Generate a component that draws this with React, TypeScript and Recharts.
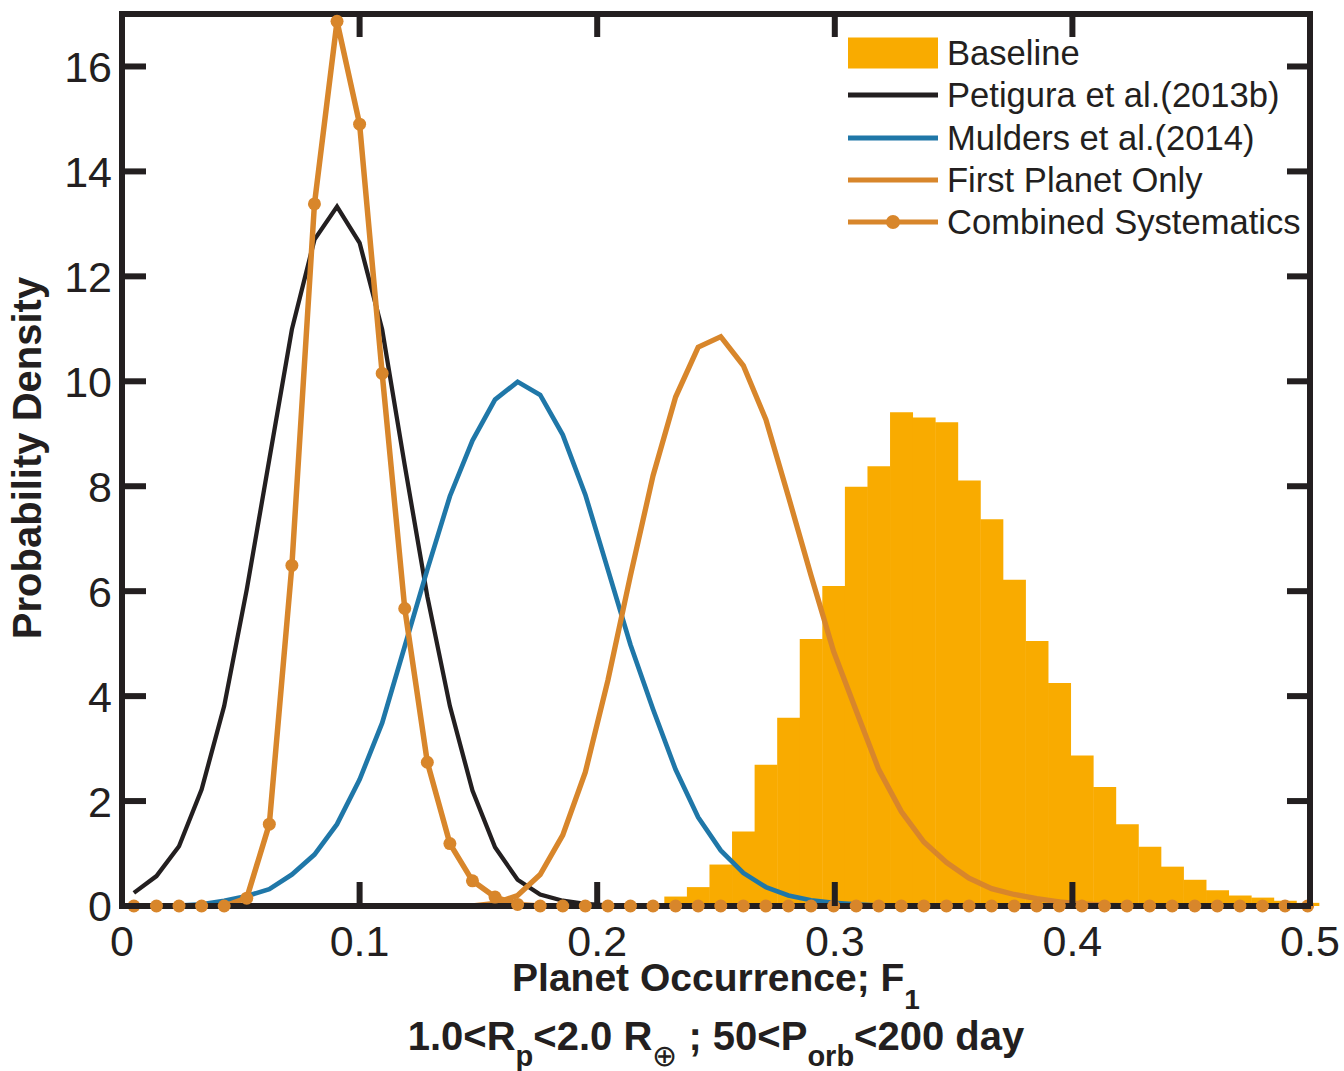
import React from 'react';
import { ComposedChart, Bar, Line, XAxis, YAxis, Legend } from 'recharts';

// ---------- data ----------
const X_VALUES = [
  0.005, 0.0145, 0.024, 0.0335, 0.043, 0.0525, 0.062, 0.0715, 0.081, 0.0905,
  0.1, 0.1095, 0.119, 0.1285, 0.138, 0.1475, 0.157, 0.1665, 0.176, 0.1855,
  0.195, 0.2045, 0.214, 0.2235, 0.233, 0.2425, 0.252, 0.2615, 0.271, 0.2805,
  0.29, 0.2995, 0.309, 0.3185, 0.328, 0.3375, 0.347, 0.3565, 0.366, 0.3755,
  0.385, 0.3945, 0.404, 0.4135, 0.423, 0.4325, 0.442, 0.4515, 0.461, 0.4705,
  0.48, 0.4895, 0.499,
];

const BASELINE = [
  0, 0, 0, 0, 0, 0, 0, 0, 0, 0,
  0, 0, 0, 0, 0, 0, 0, 0, 0, 0,
  0, 0, 0, 0.03, 0.18, 0.36, 0.79, 1.42, 2.69, 3.59,
  5.09, 6.1, 7.99, 8.38, 9.41, 9.31, 9.22, 8.11, 7.37, 6.22,
  5.05, 4.25, 2.87, 2.27, 1.56, 1.13, 0.75, 0.5, 0.3, 0.2,
  0.16, 0.1, 0.06,
];

const PETIGURA = [
  0.25, 0.57, 1.14, 2.22, 3.81, 6.03, 8.51, 10.99, 12.7, 13.33,
  12.64, 10.99, 8.4, 5.9, 3.81, 2.2, 1.12, 0.5, 0.22, 0.1,
  0.04, 0.01, 0, 0, 0, 0, 0, 0, 0, 0,
  0, 0, 0, 0, 0, 0, 0, 0, 0, 0,
  0, 0, 0, 0, 0, 0, 0, 0, 0, 0,
  0, 0, 0,
];

const MULDERS = [
  0, 0, 0.01, 0.03, 0.1, 0.19, 0.32, 0.6, 0.98, 1.56,
  2.41, 3.49, 4.95, 6.41, 7.81, 8.87, 9.65, 9.99, 9.74, 8.98,
  7.84, 6.41, 4.98, 3.75, 2.6, 1.69, 1.06, 0.63, 0.36, 0.2,
  0.11, 0.06, 0.03, 0.01, 0, 0, 0, 0, 0, 0,
  0, 0, 0, 0, 0, 0, 0, 0, 0, 0,
  0, 0, 0,
];

const FIRST_PLANET = [
  0, 0, 0, 0, 0, 0, 0, 0, 0, 0,
  0, 0, 0, 0, 0, 0, 0.05, 0.2, 0.6, 1.35,
  2.55, 4.3, 6.3, 8.2, 9.7, 10.65, 10.85, 10.3, 9.27, 7.8,
  6.3, 4.85, 3.72, 2.6, 1.8, 1.22, 0.83, 0.53, 0.33, 0.22,
  0.14, 0.08, 0.04, 0.02, 0, 0, 0, 0, 0, 0,
  0, 0, 0,
];

const COMBINED = [
  0, 0, 0, 0, 0, 0.15, 1.56, 6.49, 13.38, 16.86,
  14.9, 10.15, 5.67, 2.74, 1.19, 0.48, 0.17, 0.03, 0, 0,
  0, 0, 0, 0, 0, 0, 0, 0, 0, 0,
  0, 0, 0, 0, 0, 0, 0, 0, 0, 0,
  0, 0, 0, 0, 0, 0, 0, 0, 0, 0,
  0, 0, 0,
];

const X_TICKS = [0, 0.1, 0.2, 0.3, 0.4, 0.5];
const X_TICK_LABELS = ['0', '0.1', '0.2', '0.3', '0.4', '0.5'];
const Y_TICKS = [0, 2, 4, 6, 8, 10, 12, 14, 16];
const Y_TICK_LABELS = ['0', '2', '4', '6', '8', '10', '12', '14', '16'];

const SERIES_NAMES = [
  'Baseline',
  'Petigura et al.(2013b)',
  'Mulders et al.(2014)',
  'First Planet Only',
  'Combined Systematics',
];

// ---------- style ----------
const FONT = '"Liberation Sans", Arial, Helvetica, sans-serif';
const INK = '#231F20';
const C_BASE = '#F9AB00';
const C_BLACK = '#231F20';
const C_BLUE = '#1F77A8';
const C_ORANGE = '#D8862B';

const W = 1344;
const H = 1071;
const PLOT_LEFT = 122;
const PLOT_RIGHT = 1311;
const PLOT_TOP = 13;
const PLOT_BOTTOM = 906;
const TICK_LEN = 24;
const FRAME_W = 6;

const rows = X_VALUES.map((x, i) => ({
  x,
  baseline: BASELINE[i],
  petigura: PETIGURA[i],
  mulders: MULDERS[i],
  first: FIRST_PLANET[i],
  combined: COMBINED[i],
}));

const xLabel = (v: number) => X_TICK_LABELS[X_TICKS.indexOf(v)] ?? String(v);
const yLabel = (v: number) => Y_TICK_LABELS[Y_TICKS.indexOf(v)] ?? String(v);

const BottomTick = (p: any) => (
  <g>
    <line x1={p.x} x2={p.x} y1={PLOT_BOTTOM} y2={PLOT_BOTTOM - TICK_LEN} stroke={INK} strokeWidth={FRAME_W} />
    <text x={p.x} y={956} textAnchor="middle" fontSize={43} fontFamily={FONT} fill={INK}>
      {xLabel(p.payload.value)}
    </text>
  </g>
);

const TopTick = (p: any) => (
  <line x1={p.x} x2={p.x} y1={PLOT_TOP} y2={PLOT_TOP + TICK_LEN} stroke={INK} strokeWidth={FRAME_W} />
);

const LeftTick = (p: any) => (
  <g>
    <line x1={PLOT_LEFT} x2={PLOT_LEFT + TICK_LEN} y1={p.y} y2={p.y} stroke={INK} strokeWidth={FRAME_W} />
    <text x={112} y={p.y} dy="0.36em" textAnchor="end" fontSize={43} fontFamily={FONT} fill={INK}>
      {yLabel(p.payload.value)}
    </text>
  </g>
);

const RightTick = (p: any) => (
  <line x1={PLOT_RIGHT} x2={PLOT_RIGHT - TICK_LEN} y1={p.y} y2={p.y} stroke={INK} strokeWidth={FRAME_W} />
);

const axisLineStyle = { stroke: INK, strokeWidth: FRAME_W, strokeLinecap: 'square' as const };

const LEGEND_KINDS = [
  { kind: 'patch', color: C_BASE },
  { kind: 'line', color: C_BLACK },
  { kind: 'line', color: C_BLUE },
  { kind: 'line', color: C_ORANGE },
  { kind: 'dotline', color: C_ORANGE },
];

const LegendContent = () => (
  <div style={{ fontFamily: FONT, fontSize: 34.6, color: INK }}>
    {SERIES_NAMES.map((name, i) => {
      const it = LEGEND_KINDS[i];
      return (
        <div key={name} style={{ display: 'flex', alignItems: 'center', height: 42.3 }}>
          <svg width={90} height={32} style={{ marginRight: 9, flex: 'none' }}>
            {it.kind === 'patch' ? (
              <rect x={0} y={0.5} width={90} height={31} fill={it.color} />
            ) : (
              <g>
                <line x1={0} x2={90} y1={16} y2={16} stroke={it.color} strokeWidth={5} />
                {it.kind === 'dotline' ? <circle cx={45} cy={16} r={7} fill={it.color} /> : null}
              </g>
            )}
          </svg>
          <span style={{ whiteSpace: 'nowrap', lineHeight: '42px' }}>{name}</span>
        </div>
      );
    })}
  </div>
);

export default function App() {
  return (
    <div style={{ position: 'absolute', left: 0, top: 0, width: W, height: H, background: '#fff' }}>
      <ComposedChart
        width={W}
        height={H}
        data={rows}
        margin={{ top: PLOT_TOP, right: W - PLOT_RIGHT, bottom: 0, left: 0 }}
        barCategoryGap={0}
        barGap={0}
      >
        <Bar dataKey="baseline" name={SERIES_NAMES[0]} fill={C_BASE} isAnimationActive={false} />
        <Line type="linear" dataKey="petigura" name={SERIES_NAMES[1]} stroke={C_BLACK} strokeWidth={4.3} dot={false} isAnimationActive={false} />
        <Line type="linear" dataKey="mulders" name={SERIES_NAMES[2]} stroke={C_BLUE} strokeWidth={4.7} dot={false} isAnimationActive={false} />
        <Line type="linear" dataKey="first" name={SERIES_NAMES[3]} stroke={C_ORANGE} strokeWidth={5.3} dot={false} isAnimationActive={false} />
        <Line
          type="linear"
          dataKey="combined"
          name={SERIES_NAMES[4]}
          stroke={C_ORANGE}
          strokeWidth={5.5}
          dot={{ r: 6.5, fill: C_ORANGE, stroke: C_ORANGE, strokeWidth: 0 }}
          isAnimationActive={false}
        />
        {/* invisible carrier so the mirrored top/right frame axes get a scale */}
        <Line
          xAxisId="top"
          yAxisId="right"
          type="linear"
          dataKey="combined"
          stroke="none"
          dot={false}
          activeDot={false}
          legendType="none"
          isAnimationActive={false}
        />

        <XAxis
          dataKey="x"
          type="number"
          domain={[0, 0.5]}
          ticks={X_TICKS}
          interval={0}
          height={H - PLOT_BOTTOM}
          axisLine={axisLineStyle}
          tickLine={false}
          tick={(p: any) => <BottomTick {...p} />}
        />
        <XAxis
          xAxisId="top"
          orientation="top"
          dataKey="x"
          type="number"
          domain={[0, 0.5]}
          allowDataOverflow
          ticks={X_TICKS}
          interval={0}
          height={1}
          axisLine={axisLineStyle}
          tickLine={false}
          tick={(p: any) => <TopTick {...p} />}
        />
        <YAxis
          type="number"
          domain={[0, 17]}
          ticks={Y_TICKS}
          interval={0}
          width={PLOT_LEFT}
          axisLine={axisLineStyle}
          tickLine={false}
          tick={(p: any) => <LeftTick {...p} />}
        />
        <YAxis
          yAxisId="right"
          orientation="right"
          type="number"
          domain={[0, 17]}
          allowDataOverflow
          ticks={Y_TICKS}
          interval={0}
          width={1}
          axisLine={axisLineStyle}
          tickLine={false}
          tick={(p: any) => <RightTick {...p} />}
        />

        <Legend
          layout="horizontal"
          verticalAlign="middle"
          align="center"
          content={() => <LegendContent />}
          wrapperStyle={{ left: 848, top: 32, width: 490, height: 212 }}
        />

        <text
          transform="translate(41,458) rotate(-90)"
          textAnchor="middle"
          fontSize={40}
          fontWeight="bold"
          fontFamily={FONT}
          fill={INK}
        >
          Probability Density
        </text>
        <text x={716} y={991} textAnchor="middle" fontSize={39} fontWeight="bold" fontFamily={FONT} fill={INK}>
          Planet Occurrence; F
          <tspan fontSize={28} dy={18}>1</tspan>
        </text>
        <text x={716} y={1050} textAnchor="middle" fontSize={40} fontWeight="bold" fontFamily={FONT} fill={INK}>
          1.0&lt;R
          <tspan fontSize={29} dy={16}>p</tspan>
          <tspan dy={-16}>&lt;2.0 R</tspan>
          <tspan fontSize={30} dy={16} fontWeight="normal">⊕</tspan>
          <tspan dy={-16}> ; 50&lt;P</tspan>
          <tspan fontSize={29} dy={16}>orb</tspan>
          <tspan dy={-16}>&lt;200 day</tspan>
        </text>
      </ComposedChart>
    </div>
  );
}
